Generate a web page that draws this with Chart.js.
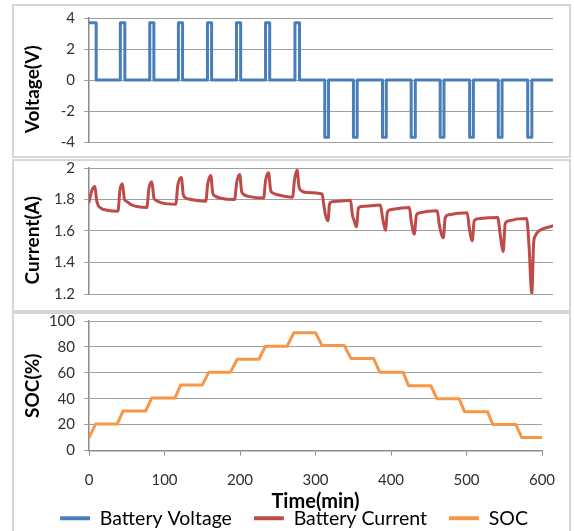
<!DOCTYPE html>
<html>
<head>
<meta charset="utf-8">
<script src="https://cdn.jsdelivr.net/npm/chart.js@4/dist/chart.umd.min.js"></script>
<style>
  html, body { margin: 0; padding: 0; background: #fff; }
  #wrap { position: relative; width: 574px; height: 531px; overflow: hidden; }
  .panel { position: absolute; left: 12px; width: 559px; box-sizing: border-box; border: 2px solid #d6d6d6; }
  canvas { position: absolute; left: 0; }
</style>
</head>
<body>
<div id="wrap">
  <div class="panel" style="top:4px;height:154px"></div>
  <div class="panel" style="top:159px;height:153px"></div>
  <div class="panel" style="top:312px;height:230px"></div>
  <canvas id="voltChart" style="top:0px" width="574" height="160"></canvas>
  <canvas id="curChart" style="top:150px" width="574" height="162"></canvas>
  <canvas id="socChart" style="top:300px" width="574" height="238"></canvas>
</div>
<script>
'use strict';

// battery voltage (V) vs time (min)
var voltTime = [0, 9.5, 9.5,
    41.5, 41.5, 47.5, 47.5, 80.5, 80.5, 86, 86, 118.5, 118.5, 124, 124,
    157, 157, 162.5, 162.5, 195.5, 195.5, 201, 201, 234, 234, 239.5, 239.5,
    273, 273, 279, 279,
    312.5, 312.5, 317.5, 317.5, 350.5, 350.5, 355.5, 355.5, 389, 389, 394, 394,
    427, 427, 432.5, 432.5, 465.5, 465.5, 470.5, 470.5, 504.5, 504.5, 509.5, 509.5,
    542.5, 542.5, 547.5, 547.5, 581.5, 581.5, 587, 587, 617];
var voltValue = [3.7, 3.7, 0,
    0, 3.7, 3.7, 0, 0, 3.7, 3.7, 0, 0, 3.7, 3.7, 0,
    0, 3.7, 3.7, 0, 0, 3.7, 3.7, 0, 0, 3.7, 3.7, 0,
    0, 3.7, 3.7, 0,
    0, -3.7, -3.7, 0, 0, -3.7, -3.7, 0, 0, -3.7, -3.7, 0,
    0, -3.7, -3.7, 0, 0, -3.7, -3.7, 0, 0, -3.7, -3.7, 0,
    0, -3.7, -3.7, 0, 0, -3.7, -3.7, 0, 0];

// battery current (A) vs time (min)
var curTime = [0, 4, 7.9, 9.9, 11.9, 15.9, 23.8, 38.4,
    41, 44.3, 47, 50.3, 55.6, 76.7,
    79.4, 83.3, 86, 88.6, 95.2, 115,
    117.7, 122.4, 125, 128.3, 135, 154.8,
    157.4, 161.4, 164, 166.7, 173.3, 193,
    195.8, 199.7, 202.4, 205, 211.6, 231.5,
    234, 238, 240.7, 243.4, 250, 269.8,
    272.5, 275.8, 278.4, 281.7, 288.3, 309,
    310.8, 313.5, 316.8, 318.8, 321.4, 333.3, 346.6,
    349.2, 351.9, 354.5, 357.1, 361, 373, 386.2,
    388.9, 392.9, 395.5, 399.5, 412.7, 424.6,
    427.2, 431.2, 433.9, 437.8, 449.7, 461.6,
    464.3, 469.6, 472.2, 477.5, 489.4, 501.3,
    504, 508, 510.6, 515.9, 529.1, 541.7,
    545, 549, 551.6, 556.9, 568.8, 580,
    583.3, 586.9, 589.3, 591.3, 595.2, 600.5, 607.1, 617.7];
var curValue = [1.785, 1.86, 1.883, 1.80, 1.765, 1.745, 1.732, 1.726,
    1.86, 1.90, 1.80, 1.787, 1.768, 1.75,
    1.87, 1.913, 1.81, 1.795, 1.78, 1.77,
    1.89, 1.939, 1.83, 1.81, 1.80, 1.789,
    1.90, 1.953, 1.84, 1.823, 1.81, 1.80,
    1.91, 1.959, 1.85, 1.832, 1.82, 1.81,
    1.92, 1.97, 1.86, 1.842, 1.83, 1.815,
    1.93, 1.985, 1.88, 1.855, 1.845, 1.835,
    1.78, 1.70, 1.665, 1.77, 1.785, 1.79, 1.795,
    1.70, 1.66, 1.627, 1.745, 1.755, 1.76, 1.765,
    1.69, 1.605, 1.72, 1.735, 1.745, 1.75,
    1.66, 1.58, 1.70, 1.715, 1.725, 1.728,
    1.64, 1.557, 1.686, 1.703, 1.712, 1.716,
    1.62, 1.538, 1.666, 1.678, 1.684, 1.686,
    1.58, 1.47, 1.646, 1.665, 1.677, 1.68,
    1.50, 1.20, 1.52, 1.567, 1.595, 1.612, 1.622, 1.637];

// state of charge (%) vs time (min)
var socTime = [0, 8.9, 37.5, 45, 75, 83, 113.8, 121.3, 150, 158.7, 187.4, 196.3,
    225, 233.7, 262.4, 271.3, 300, 308.7, 338.2, 347, 377, 385, 416, 423.3,
    452.9, 460.8, 490.3, 497.4, 527.8, 534.9, 565.3, 573.3, 600];
var socValue = [10, 20.5, 20.5, 30.5, 30.5, 40.5, 40.5, 50.5, 50.5, 60.5, 60.5, 70.5,
    70.5, 80.5, 80.5, 91, 91, 81, 81, 71, 71, 60.5, 60.5, 50,
    50, 40, 40, 30, 30, 20, 20, 10, 10];

var seriesNames = ['Battery Voltage', 'Battery Current', 'SOC'];
var seriesColors = ['#4a7ebb', '#be4b48', '#f79646'];

var fontFamily = 'Lato, "Liberation Sans", sans-serif';
var tickFont = { family: fontFamily, size: 15 };
var titleFont = { family: fontFamily, size: 19, weight: 'bold' };
var tickColor = '#303030';
var gridColor = '#a0a0a0';
var axisColor = '#8c8c8c';

function toPoints(xs, ys) {
    return xs.map(function (x, i) { return { x: x, y: ys[i] }; });
}

function lineSet(label, xs, ys, color, smooth) {
    return {
        label: label,
        data: toPoints(xs, ys),
        borderColor: color,
        backgroundColor: color,
        borderWidth: 3,
        borderJoinStyle: 'round',
        borderCapStyle: 'round',
        pointRadius: 0,
        fill: false,
        tension: 0,
        cubicInterpolationMode: smooth ? 'monotone' : 'default'
    };
}

// trailing spaces push the rotated title down, below the plot's middle
function yAxis(min, max, step, title) {
    return {
        min: min,
        max: max,
        ticks: {
            stepSize: step, padding: 9, color: tickColor, font: tickFont,
            callback: function (v) { return String(Math.round(v * 10) / 10); }
        },
        grid: { color: gridColor, tickLength: 5 },
        border: { color: axisColor, width: 1.5 },
        title: { display: true, text: title, color: '#000', font: titleFont, padding: { top: 7, bottom: 0 } },
        afterFit: function (scale) { scale.width = 75; }
    };
}

function baseOptions(padding) {
    return {
        responsive: false,
        animation: false,
        layout: { padding: padding },
        plugins: { legend: { display: false }, tooltip: { enabled: false } }
    };
}

// top panel: voltage
var voltOpts = baseOptions({ left: 14, right: 21, top: 15, bottom: 11 });
voltOpts.scales = {
    x: { type: 'linear', min: 0, max: 615, display: false },
    y: yAxis(-4, 4, 2, 'Voltage(V)    ')
};
new Chart(document.getElementById('voltChart'), {
    type: 'line',
    data: { datasets: [lineSet(seriesNames[0], voltTime, voltValue, seriesColors[0], false)] },
    options: voltOpts
});

// middle panel: current
var curOpts = baseOptions({ left: 14, right: 21, top: 17, bottom: 10 });
curOpts.scales = {
    x: { type: 'linear', min: 0, max: 615, display: false },
    y: yAxis(1.2, 2, 0.2, 'Current(A)    ')
};
new Chart(document.getElementById('curChart'), {
    type: 'line',
    data: { datasets: [lineSet(seriesNames[1], curTime, curValue, seriesColors[1], true)] },
    options: curOpts
});

// bottom panel: SOC, time axis and the shared legend
var socOpts = baseOptions({ left: 14, right: 0, top: 21, bottom: 0 });
socOpts.scales = {
    x: {
        type: 'linear', min: 0, max: 600,
        ticks: { stepSize: 100, padding: 16, maxRotation: 0, color: tickColor, font: tickFont },
        grid: { drawOnChartArea: false, tickLength: 5, color: axisColor },
        border: { color: axisColor, width: 1.5 },
        title: { display: true, text: 'Time(min)', color: '#000', font: { family: fontFamily, size: 20, weight: 'bold' }, padding: { top: 0, bottom: -27 } },
        afterFit: function (scale) { scale.height = 36; }
    },
    y: yAxis(0, 100, 20, 'SOC(%)'),
    yRight: {
        position: 'right', display: true,
        ticks: { display: false },
        grid: { display: false },
        border: { display: false },
        afterFit: function (scale) { scale.width = 32; }
    }
};
socOpts.plugins.legend = {
    display: true,
    position: 'bottom',
    labels: {
        boxWidth: 30,
        boxHeight: 4,
        padding: 22,
        color: '#1a1a1a',
        font: { family: fontFamily, size: 19.5 },
        generateLabels: function () {
            return seriesNames.map(function (name, i) {
                return { text: name, fillStyle: seriesColors[i], strokeStyle: seriesColors[i], lineWidth: 0, hidden: false, datasetIndex: i };
            });
        }
    }
};
new Chart(document.getElementById('socChart'), {
    type: 'line',
    data: { datasets: [lineSet(seriesNames[2], socTime, socValue, seriesColors[2], false)] },
    options: socOpts
});
</script>
</body>
</html>
